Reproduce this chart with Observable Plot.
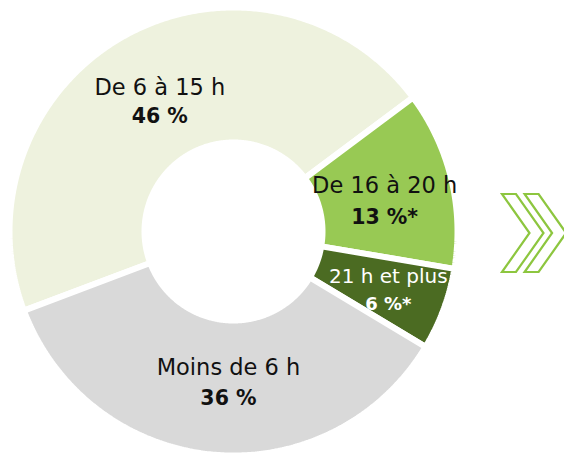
<!DOCTYPE html>
<html>
<head>
<meta charset="utf-8">
<script src="https://cdn.jsdelivr.net/npm/d3@7"></script>
<script src="https://cdn.jsdelivr.net/npm/@observablehq/plot@0.6"></script>
<style>
  html, body { margin: 0; padding: 0; background: #fff; }
  #wrap { position: relative; width: 564px; height: 453px; overflow: hidden; }
  #deco { position: absolute; left: 0; top: 0; pointer-events: none; }
</style>
</head>
<body>
<div id="wrap"></div>
<script>
// ---- data ----
const categories = ["De 6 à 15 h", "De 16 à 20 h", "21 h et plus", "Moins de 6 h"];
const values = [46, 13, 6, 36];
const valueLabels = ["46 %", "13 %*", "6 %*", "36 %"];
const palette = ["#EEF2DE", "#98C954", "#4B6B22", "#D9D9D9"];

// ---- geometry (pixels) ----
const W = 564, H = 453, CX = 233, CY = 231;
const R_IN = 89, R_OUT = 224;
const start = -110.7 * Math.PI / 180;
const pie = d3.pie().sort(null).startAngle(start).endAngle(start + 2 * Math.PI);
const arcs = pie(values);

const pts = [];
const cents = [];
arcs.forEach((a, i) => {
  const cat = categories[i];
  const n = Math.max(8, Math.ceil((a.endAngle - a.startAngle) / (Math.PI / 360)));
  for (let k = 0; k <= n; k++) {
    const t = a.startAngle + (a.endAngle - a.startAngle) * k / n;
    pts.push({cat, x: R_OUT * Math.sin(t), y: R_OUT * Math.cos(t)});
  }
  for (let k = n; k >= 0; k--) {
    const t = a.startAngle + (a.endAngle - a.startAngle) * k / n;
    pts.push({cat, x: R_IN * Math.sin(t), y: R_IN * Math.cos(t)});
  }
  const m = (a.startAngle + a.endAngle) / 2, rc = (R_IN + R_OUT) / 2;
  cents.push({cat, label: cat, value: valueLabels[i], x: rc * Math.sin(m), y: rc * Math.cos(m)});
});

// label nudges relative to slice centroid
const nudge = {
  "De 6 à 15 h":  {dx: 1.5, dy1: -6,   dy2: 22.5, fill: "#111", fs1: 22.5, fs2: 20.5},
  "De 16 à 20 h": {dx: -1,  dy1: -9,   dy2: 23,   fill: "#111", fs1: 22.5, fs2: 20.5},
  "21 h et plus": {dx: 8,   dy1: -9.5, dy2: 18,   fill: "#fff", fs1: 20,   fs2: 18},
  "Moins de 6 h": {dx: 9,   dy1: -20,  dy2: 11.5, fill: "#111", fs1: 22.5, fs2: 20.5}
};

const textMarks = [];
categories.forEach(c => {
  const s = nudge[c];
  const d = cents.filter(e => e.cat === c);
  textMarks.push(Plot.text(d, {x: "x", y: "y", text: "label", dx: s.dx, dy: s.dy1,
    fill: s.fill, fontSize: s.fs1, fontFamily: "DejaVu Sans", textAnchor: "middle"}));
  textMarks.push(Plot.text(d, {x: "x", y: "y", text: "value", dx: s.dx, dy: s.dy2,
    fill: s.fill, fontSize: s.fs2, fontWeight: "bold", fontFamily: "DejaVu Sans", textAnchor: "middle"}));
});

const chart = Plot.plot({
  width: W,
  height: H,
  margin: 0,
  style: {background: "white", overflow: "visible"},
  x: {domain: [-CX, W - CX], range: [0, W], axis: null},
  y: {domain: [CY - H, CY], range: [H, 0], axis: null},
  color: {domain: categories, range: palette},
  marks: [
    Plot.line(pts, {x: "x", y: "y", z: "cat", fill: "cat", stroke: "white",
      strokeWidth: 6, curve: "linear-closed", strokeLinejoin: "miter"}),
    ...textMarks
  ]
});

const wrap = document.getElementById("wrap");
wrap.appendChild(chart);

// decorative double chevron
const ns = "http://www.w3.org/2000/svg";
const deco = document.createElementNS(ns, "svg");
deco.setAttribute("id", "deco");
deco.setAttribute("width", W);
deco.setAttribute("height", H);
[0, 22.6].forEach(off => {
  const p = document.createElementNS(ns, "polygon");
  const base = [[502,194],[516,194],[543.5,233],[516,272],[502,272],[529.5,233]];
  p.setAttribute("points", base.map(([x, y]) => `${x + off},${y}`).join(" "));
  p.setAttribute("fill", "none");
  p.setAttribute("stroke", "#8DC63F");
  p.setAttribute("stroke-width", "2.2");
  p.setAttribute("stroke-linejoin", "miter");
  deco.appendChild(p);
});
wrap.appendChild(deco);
</script>
</body>
</html>
